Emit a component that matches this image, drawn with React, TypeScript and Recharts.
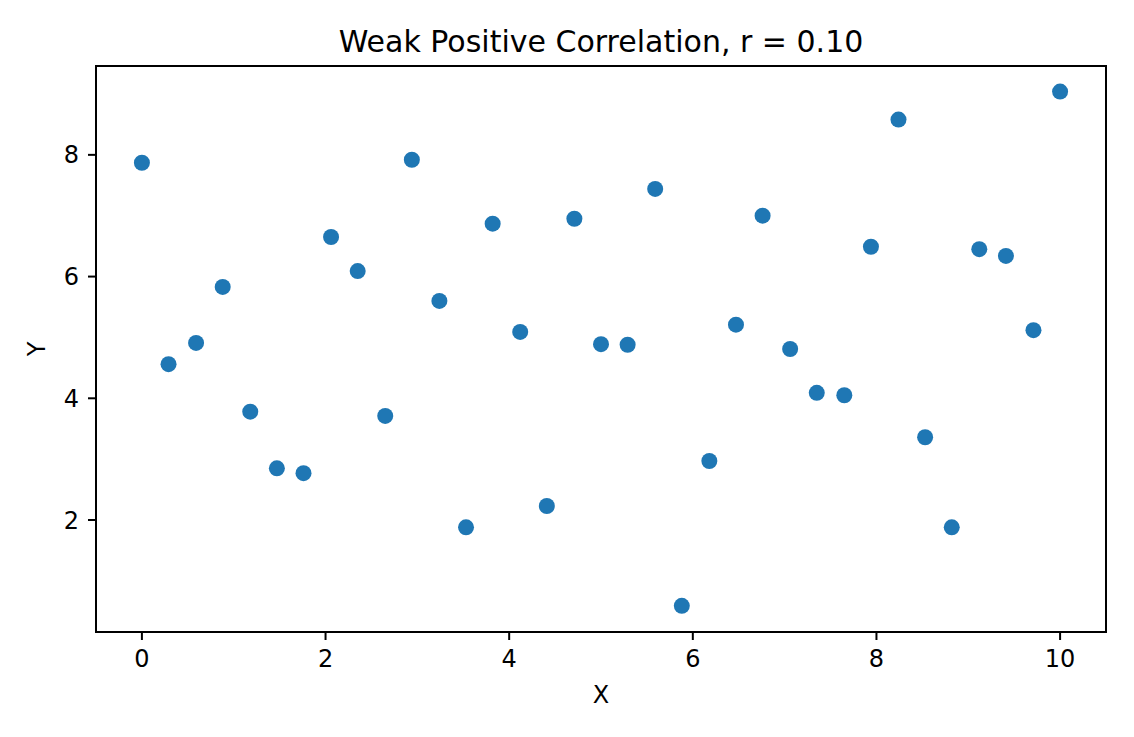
import React from 'react';
import { ScatterChart, Scatter, XAxis, YAxis, ReferenceArea } from 'recharts';

const xValues = [
  0, 0.29, 0.59, 0.88, 1.18, 1.47, 1.76, 2.06, 2.35, 2.65, 2.94, 3.24,
  3.53, 3.82, 4.12, 4.41, 4.71, 5.0, 5.29, 5.59, 5.88, 6.18, 6.47, 6.76,
  7.06, 7.35, 7.65, 7.94, 8.24, 8.53, 8.82, 9.12, 9.41, 9.71, 10,
];
const yValues = [
  7.87, 4.56, 4.91, 5.83, 3.78, 2.85, 2.77, 6.65, 6.09, 3.71, 7.92, 5.6,
  1.88, 6.87, 5.09, 2.23, 6.95, 4.89, 4.88, 7.44, 0.59, 2.97, 5.21, 7.0,
  4.81, 4.09, 4.05, 6.49, 8.58, 3.36, 1.88, 6.45, 6.34, 5.12, 9.04,
];
const xTicks = [0, 2, 4, 6, 8, 10];
const yTicks = [2, 4, 6, 8];
const xDomain: [number, number] = [-0.5, 10.5];
const yDomain: [number, number] = [0.16, 9.46];
const title = 'Weak Positive Correlation, r = 0.10';
const xLabel = 'X';
const yLabel = 'Y';

const data = xValues.map((x, i) => ({ x, y: yValues[i] }));

const FONT = '"DejaVu Sans", sans-serif';
const tickStyle = { fill: '#000', fontSize: 24, fontFamily: FONT };

const Dot = (props: any) => (
  <circle cx={props.cx} cy={props.cy} r={8} fill="#1f77b4" />
);

export default function App() {
  return (
    <div style={{ position: 'absolute', left: 0, top: 0, width: 1134, height: 737, background: '#fff' }}>
      <div
        style={{
          position: 'absolute',
          left: 96,
          width: 1010,
          top: 23,
          textAlign: 'center',
          fontFamily: FONT,
          fontSize: 30,
          lineHeight: '38px',
          color: '#000',
          whiteSpace: 'nowrap',
        }}
      >
        {title}
      </div>
      <ScatterChart width={1134} height={737} margin={{ top: 66, right: 28, bottom: 25, left: 16 }}>
        <XAxis
          type="number"
          dataKey="x"
          domain={xDomain}
          ticks={xTicks}
          allowDataOverflow
          height={80}
          tickSize={8}
          tickMargin={10}
          tick={tickStyle}
          axisLine={{ stroke: '#000', strokeWidth: 2 }}
          tickLine={{ stroke: '#000', strokeWidth: 2 }}
          label={{
            content: (p: any) => {
              const vb = p.viewBox || {};
              return (
                <text x={vb.x + vb.width / 2} y={703} textAnchor="middle" fontSize={24} fontFamily={FONT} fill="#000">
                  {xLabel}
                </text>
              );
            },
          }}
        />
        <YAxis
          type="number"
          dataKey="y"
          domain={yDomain}
          ticks={yTicks}
          allowDataOverflow
          width={80}
          tickSize={8}
          tickMargin={9}
          tick={tickStyle}
          axisLine={{ stroke: '#000', strokeWidth: 2 }}
          tickLine={{ stroke: '#000', strokeWidth: 2 }}
          label={{
            content: (p: any) => {
              const vb = p.viewBox || {};
              const cy = vb.y + vb.height / 2;
              return (
                <text
                  x={45}
                  y={cy}
                  transform={`rotate(-90 45 ${cy})`}
                  textAnchor="middle"
                  fontSize={24}
                  fontFamily={FONT}
                  fill="#000"
                >
                  {yLabel}
                </text>
              );
            },
          }}
        />
        <ReferenceArea
          x1={xDomain[0]}
          x2={xDomain[1]}
          y1={yDomain[0]}
          y2={yDomain[1]}
          fill="none"
          fillOpacity={0}
          stroke="#000"
          strokeWidth={2}
          ifOverflow="visible"
        />
        <Scatter data={data} shape={Dot} isAnimationActive={false} />
      </ScatterChart>
    </div>
  );
}
